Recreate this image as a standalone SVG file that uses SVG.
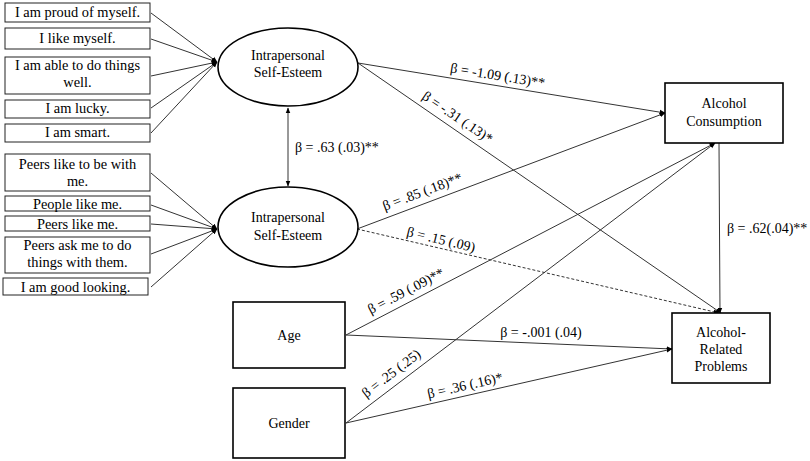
<svg xmlns="http://www.w3.org/2000/svg" width="810" height="461" viewBox="0 0 810 461" font-family="'Liberation Serif', 'Times New Roman', serif">
<defs>
<marker id="ah" viewBox="0 0 10 10" refX="9" refY="5" markerWidth="6" markerHeight="6" orient="auto-start-reverse" markerUnits="userSpaceOnUse">
<path d="M0,1 L10,5 L0,9 z" fill="#000"/>
</marker>
</defs>
<style>
text{font-family:'Liberation Serif','Times New Roman',serif;font-size:14px;fill:#000}
.c{text-anchor:middle}
.it{font-size:14.4px}
.item{fill:#fff;stroke:#222;stroke-width:1}
.box{fill:#fff;stroke:#000;stroke-width:1.6}
.ell{fill:#fff;stroke:#000;stroke-width:1.6}
.ln{stroke:#333;stroke-width:1;fill:none;marker-end:url(#ah)}
.dash{stroke-dasharray:3,2}
</style>
<rect width="810" height="461" fill="#fff"/>

<g id="connectors">
<line class="ln" x1="151" y1="13" x2="217" y2="62"/>
<line class="ln" x1="151" y1="39" x2="217" y2="62"/>
<line class="ln" x1="151" y1="76" x2="217" y2="62"/>
<line class="ln" x1="151" y1="108" x2="217" y2="62"/>
<line class="ln" x1="151" y1="133" x2="217" y2="62"/>
<line class="ln" x1="151" y1="173" x2="217" y2="229"/>
<line class="ln" x1="151" y1="205" x2="217" y2="229"/>
<line class="ln" x1="151" y1="224" x2="217" y2="229"/>
<line class="ln" x1="151" y1="254" x2="217" y2="229"/>
<line class="ln" x1="151" y1="287" x2="217" y2="229"/>
<line class="ln" x1="288" y1="108" x2="288" y2="186" marker-start="url(#ah)"/>
<line class="ln" x1="358" y1="63" x2="665" y2="113"/>
<line class="ln" x1="358" y1="63" x2="721" y2="313"/>
<line class="ln" x1="357" y1="229" x2="665" y2="113"/>
<line class="ln dash" x1="357" y1="229" x2="719" y2="313"/>
<line class="ln" x1="719" y1="143" x2="720" y2="313"/>
<line class="ln" x1="346" y1="335" x2="715" y2="143"/>
<line class="ln" x1="346" y1="335" x2="672" y2="349"/>
<line class="ln" x1="346" y1="423" x2="715" y2="143"/>
<line class="ln" x1="346" y1="423" x2="672" y2="349"/>
</g>

<g id="labels">
<text x="295" y="152">β = .63 (.03)**</text>
<text class="c" transform="translate(497,80) rotate(9.2)">β = -1.09 (.13)**</text>
<text class="c" transform="translate(455,121) rotate(34)">β = -.31 (.13)*</text>
<text class="c" transform="translate(424,196) rotate(-20.7)">β = .85 (.18)**</text>
<text class="c" transform="translate(440,244) rotate(13.5)">β = .15 (.09)</text>
<text class="c" transform="translate(408,295) rotate(-27.5)">β = .59 (.09)**</text>
<text class="c" x="541" y="337">β = -.001 (.04)</text>
<text class="c" transform="translate(394,377) rotate(-37.3)">β = .25 (.25)</text>
<text class="c" transform="translate(466,390) rotate(-12.8)">β = .36 (.16)*</text>
<text x="727" y="233">β = .62(.04)**</text>
</g>

<g id="item1"><rect class="item" x="5" y="3" width="145" height="19"/><text class="c it" x="77.5" y="17">I am proud of myself.</text></g>
<g id="item2"><rect class="item" x="5" y="28" width="145" height="21"/><text class="c it" x="77.5" y="43">I like myself.</text></g>
<g id="item3"><rect class="item" x="5" y="57" width="145" height="37"/><text class="c it" x="77.5" y="70">I am able to do things</text><text class="c it" x="77.5" y="87">well.</text></g>
<g id="item4"><rect class="item" x="5" y="100" width="145" height="18"/><text class="c it" x="77.5" y="113">I am lucky.</text></g>
<g id="item5"><rect class="item" x="5" y="124" width="145" height="18"/><text class="c it" x="77.5" y="137">I am smart.</text></g>

<g id="item6"><rect class="item" x="5" y="154" width="145" height="37"/><text class="c it" x="77.5" y="169">Peers like to be with</text><text class="c it" x="77.5" y="186">me.</text></g>
<g id="item7"><rect class="item" x="5" y="196" width="145" height="15"/><text class="c it" x="77.5" y="209">People like me.</text></g>
<g id="item8"><rect class="item" x="5" y="216" width="145" height="15"/><text class="c it" x="77.5" y="229">Peers like me.</text></g>
<g id="item9"><rect class="item" x="5" y="237" width="145" height="36"/><text class="c it" x="77.5" y="250">Peers ask me to do</text><text class="c it" x="77.5" y="267">things with them.</text></g>
<g id="item10"><rect class="item" x="3" y="278" width="145" height="17"/><text class="c it" x="75.5" y="292">I am good looking.</text></g>

<g id="ellipse1"><ellipse class="ell" cx="288" cy="67" rx="70" ry="39"/><text class="c" x="288" y="60">Intrapersonal</text><text class="c" x="288" y="77">Self-Esteem</text></g>
<g id="ellipse2"><ellipse class="ell" cx="288" cy="227" rx="70" ry="40"/><text class="c" x="288" y="222">Intrapersonal</text><text class="c" x="288" y="240">Self-Esteem</text></g>

<g id="alcohol-consumption"><rect class="box" x="665" y="83" width="118" height="60"/><text class="c" x="724" y="108">Alcohol</text><text class="c" x="724" y="126">Consumption</text></g>
<g id="alcohol-problems"><rect class="box" x="672" y="313" width="98" height="70"/><text class="c" x="721" y="337">Alcohol-</text><text class="c" x="721" y="354">Related</text><text class="c" x="721" y="371">Problems</text></g>
<g id="age"><rect class="box" x="233" y="302" width="112" height="66"/><text class="c" x="289" y="340">Age</text></g>
<g id="gender"><rect class="box" x="233" y="388" width="112" height="70"/><text class="c" x="289" y="428">Gender</text></g>
</svg>
